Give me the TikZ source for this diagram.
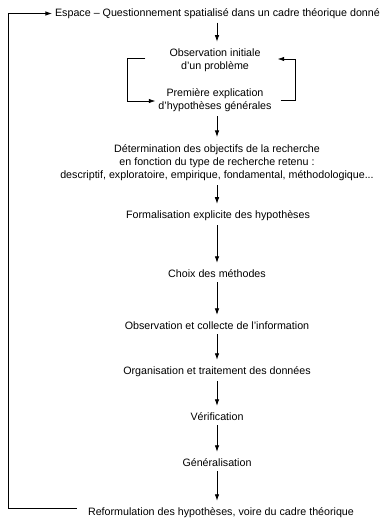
\documentclass[tikz,border=0pt]{standalone}
\usepackage{fontspec}
\setmainfont{Liberation Sans}
\usepackage{tikz}
\usetikzlibrary{arrows.meta}
\tikzstyle{arrow} = [line width=0.75pt,-{Latex[length=6.5pt,width=4.5pt]}]
\tikzstyle{etape} = [align=center, inner sep=3pt, font=\fontsize{10.7}{13.3}\selectfont]

\begin{document}
\begin{tikzpicture}[x=1pt, y=-1pt]
    \useasboundingbox (0,0) rectangle (382,518);

    \node (espace) [etape] at (217.5,13.5) {Espace -- Questionnement spatialisé dans un cadre théorique donné};
    \node (obs) [etape] at (215,60.5) {Observation initiale\\d'un problème};
    \node (prem) [etape] at (215,100.5) {Première explication\\d'hypothèses générales};
    \node (det) [etape] at (217,162.5) {Détermination des objectifs de la recherche\\en fonction du type de recherche retenu :\\descriptif, exploratoire, empirique, fondamental, méthodologique...};
    \node (form) [etape] at (218,216) {Formalisation explicite des hypothèses};
    \node (choix) [etape] at (217,274) {Choix des méthodes};
    \node (collecte) [etape] at (217,326) {Observation et collecte de l'information};
    \node (orga) [etape] at (217,372) {Organisation et traitement des données};
    \node (verif) [etape] at (217,417) {Vérification};
    \node (gener) [etape] at (217,463) {Généralisation};
    \node (reform) [etape] at (221,513) {Reformulation des hypothèses, voire du cadre théorique};

    \coordinate (loop_left) at (127,0);
    \coordinate (loop_right) at (295,0);
    \coordinate (loop_outer) at (8.5,0);

    % main chain
    \draw [arrow, shorten <=1pt, shorten >=4pt] (217,0 |- espace.south) -- (217,0 |- obs.north);
    \draw [arrow, shorten <=1pt, shorten >=4pt] (217,0 |- prem.south) -- (217,0 |- det.north);
    \draw [arrow, shorten <=1pt, shorten >=4pt] (217,0 |- det.south) -- (217,0 |- form.north);
    \draw [arrow, shorten <=1pt, shorten >=4pt] (217,0 |- form.south) -- (217,0 |- choix.north);
    \draw [arrow, shorten <=1pt, shorten >=4pt] (217,0 |- choix.south) -- (217,0 |- collecte.north);
    \draw [arrow, shorten <=1pt, shorten >=4pt] (217,0 |- collecte.south) -- (217,0 |- orga.north);
    \draw [arrow, shorten <=1pt, shorten >=4pt] (217,0 |- orga.south) -- (217,0 |- verif.north);
    \draw [arrow, shorten <=1pt, shorten >=4pt] (217,0 |- verif.south) -- (217,0 |- gener.north);
    \draw [arrow, shorten <=1pt, shorten >=4pt] (217,0 |- gener.south) -- (217,0 |- reform.north);

    % small loop between observation and explication
    \draw [arrow] ([xshift=-21pt, yshift=2.5pt]obs.west) -- ([yshift=2.5pt]obs.west -| loop_left) -- ([yshift=-0.5pt]prem.west -| loop_left) -- ([yshift=-0.5pt]prem.west);
    \draw [arrow] ([xshift=6pt]prem.east) -- (prem.east -| loop_right) -- ([yshift=1.5pt]obs.east -| loop_right) -- ([xshift=14pt, yshift=1.5pt]obs.east);

    % outer loop back to the start
    \draw [arrow] ([xshift=-8pt, yshift=5pt]reform.west) -- ([yshift=5pt]reform.west -| loop_outer) -- (espace.west -| loop_outer) -- (espace.west);

\end{tikzpicture}
\end{document}
